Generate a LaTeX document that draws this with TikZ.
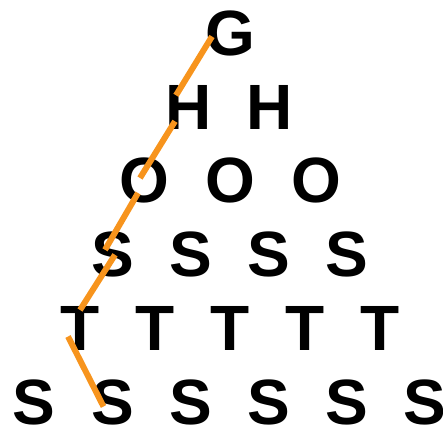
\documentclass[tikz,border=0pt]{standalone}
\usepackage{fontspec}
\setmainfont{Liberation Sans}
\definecolor{pathorange}{RGB}{247,148,29}
\begin{document}
\begin{tikzpicture}[x=1pt,y=-1pt,
  letter/.style={inner sep=0pt,anchor=base,font=\fontsize{64}{64}\selectfont\bfseries},
  trace/.style={draw=pathorange,line width=6pt,line cap=butt}]
\useasboundingbox (0,0) rectangle (443,427);
% row 1
\node[letter] (g) at (230,55.5) {G};
% row 2
\node[letter] (h1) at (189,129.3) {H};
\node[letter] (h2) at (270,129.3) {H};
% row 3
\node[letter] (o1) at (144,203) {O};
\node[letter] (o2) at (230,203) {O};
\node[letter] (o3) at (316,203) {O};
% row 4
\node[letter] (s1) at (113,276.8) {S};
\node[letter] (s2) at (191,276.8) {S};
\node[letter] (s3) at (269,276.8) {S};
\node[letter] (s4) at (347,276.8) {S};
% row 5
\node[letter] (t1) at (80,350.5) {T};
\node[letter] (t2) at (155,350.5) {T};
\node[letter] (t3) at (230,350.5) {T};
\node[letter] (t4) at (305,350.5) {T};
\node[letter] (t5) at (380,350.5) {T};
% row 6
\node[letter] (u1) at (34,424.5) {S};
\node[letter] (u2) at (113,424.5) {S};
\node[letter] (u3) at (191,424.5) {S};
\node[letter] (u4) at (269,424.5) {S};
\node[letter] (u5) at (347,424.5) {S};
\node[letter] (u6) at (425,424.5) {S};
% orange path
\draw[trace] ([shift={(-18,-19)}]g.base) -- ([shift={(-13,-34)}]h1.base);
\draw[trace] ([shift={(-14,-8)}]h1.base) -- ([shift={(-4,-25)}]o1.base);
\draw[trace] ([shift={(-6,-10)}]o1.base) -- ([shift={(-8,-27)}]s1.base);
\draw[trace] ([shift={(2,-22)}]s1.base) -- ([shift={(0,-40.5)}]t1.base);
\draw[trace] ([shift={(-12,-14)}]t1.base) -- ([shift={(-9.5,-18)}]u2.base);
\end{tikzpicture}
\end{document}
